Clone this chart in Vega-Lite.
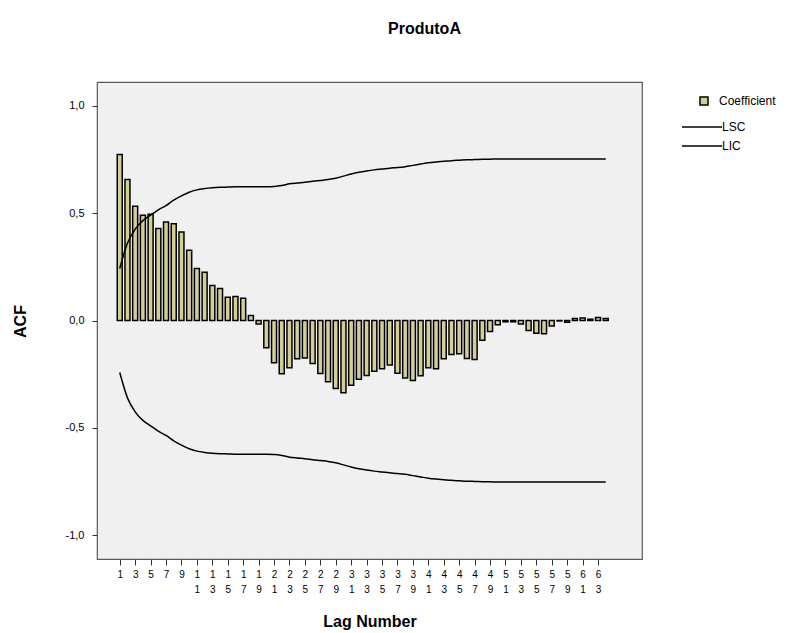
{
  "$schema": "https://vega.github.io/schema/vega-lite/v6.json",
  "width": 545,
  "height": 477,
  "autosize": "none",
  "padding": {"left": 97, "top": 82, "right": 156, "bottom": 74},
  "background": "white",
  "config": {
    "font": "Liberation Sans",
    "view": {"fill": "#f0f0f0", "stroke": "#5a5a5a", "strokeWidth": 1.2},
    "axis": {
      "grid": false,
      "domain": false,
      "labelFont": "Liberation Sans",
      "labelColor": "black",
      "tickColor": "#333333",
      "titleFont": "Liberation Sans",
      "titleFontWeight": "bold",
      "titleFontSize": 16,
      "titleColor": "black"
    },
    "legend": {"labelFont": "Liberation Sans", "labelFontSize": 12, "labelColor": "black", "padding": 0}
  },
  "title": {
    "text": "ProdutoA",
    "anchor": "middle",
    "frame": "group",
    "dx": 55,
    "offset": 32,
    "baseline": "alphabetic",
    "font": "Liberation Sans",
    "fontSize": 16,
    "fontWeight": "bold",
    "color": "black"
  },
  "data": {
    "values": [
      {"lag": 1, "acf": 0.772, "LSC": 0.242, "LIC": -0.242},
      {"lag": 2, "acf": 0.656, "LSC": 0.36, "LIC": -0.36},
      {"lag": 3, "acf": 0.532, "LSC": 0.425, "LIC": -0.425},
      {"lag": 4, "acf": 0.49, "LSC": 0.465, "LIC": -0.465},
      {"lag": 5, "acf": 0.494, "LSC": 0.49, "LIC": -0.49},
      {"lag": 6, "acf": 0.428, "LSC": 0.515, "LIC": -0.515},
      {"lag": 7, "acf": 0.458, "LSC": 0.535, "LIC": -0.535},
      {"lag": 8, "acf": 0.45, "LSC": 0.56, "LIC": -0.56},
      {"lag": 9, "acf": 0.412, "LSC": 0.58, "LIC": -0.58},
      {"lag": 10, "acf": 0.327, "LSC": 0.597, "LIC": -0.597},
      {"lag": 11, "acf": 0.242, "LSC": 0.608, "LIC": -0.608},
      {"lag": 12, "acf": 0.225, "LSC": 0.614, "LIC": -0.614},
      {"lag": 13, "acf": 0.163, "LSC": 0.618, "LIC": -0.618},
      {"lag": 14, "acf": 0.149, "LSC": 0.62, "LIC": -0.62},
      {"lag": 15, "acf": 0.108, "LSC": 0.621, "LIC": -0.621},
      {"lag": 16, "acf": 0.112, "LSC": 0.622, "LIC": -0.622},
      {"lag": 17, "acf": 0.103, "LSC": 0.622, "LIC": -0.622},
      {"lag": 18, "acf": 0.023, "LSC": 0.623, "LIC": -0.623},
      {"lag": 19, "acf": -0.016, "LSC": 0.623, "LIC": -0.623},
      {"lag": 20, "acf": -0.127, "LSC": 0.623, "LIC": -0.623},
      {"lag": 21, "acf": -0.197, "LSC": 0.624, "LIC": -0.624},
      {"lag": 22, "acf": -0.248, "LSC": 0.628, "LIC": -0.628},
      {"lag": 23, "acf": -0.22, "LSC": 0.636, "LIC": -0.636},
      {"lag": 24, "acf": -0.178, "LSC": 0.64, "LIC": -0.64},
      {"lag": 25, "acf": -0.174, "LSC": 0.643, "LIC": -0.643},
      {"lag": 26, "acf": -0.2, "LSC": 0.648, "LIC": -0.648},
      {"lag": 27, "acf": -0.247, "LSC": 0.652, "LIC": -0.652},
      {"lag": 28, "acf": -0.285, "LSC": 0.656, "LIC": -0.656},
      {"lag": 29, "acf": -0.316, "LSC": 0.662, "LIC": -0.662},
      {"lag": 30, "acf": -0.336, "LSC": 0.672, "LIC": -0.672},
      {"lag": 31, "acf": -0.301, "LSC": 0.682, "LIC": -0.682},
      {"lag": 32, "acf": -0.274, "LSC": 0.69, "LIC": -0.69},
      {"lag": 33, "acf": -0.256, "LSC": 0.696, "LIC": -0.696},
      {"lag": 34, "acf": -0.236, "LSC": 0.701, "LIC": -0.701},
      {"lag": 35, "acf": -0.225, "LSC": 0.705, "LIC": -0.705},
      {"lag": 36, "acf": -0.207, "LSC": 0.709, "LIC": -0.709},
      {"lag": 37, "acf": -0.245, "LSC": 0.712, "LIC": -0.712},
      {"lag": 38, "acf": -0.268, "LSC": 0.716, "LIC": -0.716},
      {"lag": 39, "acf": -0.279, "LSC": 0.722, "LIC": -0.722},
      {"lag": 40, "acf": -0.257, "LSC": 0.728, "LIC": -0.728},
      {"lag": 41, "acf": -0.22, "LSC": 0.734, "LIC": -0.734},
      {"lag": 42, "acf": -0.225, "LSC": 0.738, "LIC": -0.738},
      {"lag": 43, "acf": -0.178, "LSC": 0.741, "LIC": -0.741},
      {"lag": 44, "acf": -0.158, "LSC": 0.744, "LIC": -0.744},
      {"lag": 45, "acf": -0.155, "LSC": 0.746, "LIC": -0.746},
      {"lag": 46, "acf": -0.177, "LSC": 0.748, "LIC": -0.748},
      {"lag": 47, "acf": -0.181, "LSC": 0.749, "LIC": -0.749},
      {"lag": 48, "acf": -0.092, "LSC": 0.75, "LIC": -0.75},
      {"lag": 49, "acf": -0.051, "LSC": 0.751, "LIC": -0.751},
      {"lag": 50, "acf": -0.02, "LSC": 0.752, "LIC": -0.752},
      {"lag": 51, "acf": -0.006, "LSC": 0.752, "LIC": -0.752},
      {"lag": 52, "acf": -0.006, "LSC": 0.752, "LIC": -0.752},
      {"lag": 53, "acf": -0.016, "LSC": 0.752, "LIC": -0.752},
      {"lag": 54, "acf": -0.047, "LSC": 0.752, "LIC": -0.752},
      {"lag": 55, "acf": -0.059, "LSC": 0.752, "LIC": -0.752},
      {"lag": 56, "acf": -0.062, "LSC": 0.752, "LIC": -0.752},
      {"lag": 57, "acf": -0.026, "LSC": 0.752, "LIC": -0.752},
      {"lag": 58, "acf": -0.002, "LSC": 0.752, "LIC": -0.752},
      {"lag": 59, "acf": -0.008, "LSC": 0.752, "LIC": -0.752},
      {"lag": 60, "acf": 0.009, "LSC": 0.752, "LIC": -0.752},
      {"lag": 61, "acf": 0.012, "LSC": 0.752, "LIC": -0.752},
      {"lag": 62, "acf": 0.006, "LSC": 0.752, "LIC": -0.752},
      {"lag": 63, "acf": 0.014, "LSC": 0.752, "LIC": -0.752},
      {"lag": 64, "acf": 0.009, "LSC": 0.752, "LIC": -0.752}
    ]
  },
  "encoding": {
    "x": {
      "field": "lag",
      "type": "quantitative",
      "scale": {"domain": [-1.3, 68.05], "nice": false, "zero": false},
      "axis": {
        "title": "Lag Number",
        "values": [1, 3, 5, 7, 9, 11, 13, 15, 17, 19, 21, 23, 25, 27, 29, 31, 33, 35, 37, 39, 41, 43, 45, 47, 49, 51, 53, 55, 57, 59, 61, 63],
        "labelExpr": "split(toString(datum.value), '')",
        "labelFontSize": 10,
        "labelLineHeight": 15,
        "labelBaseline": "top",
        "labelPadding": 4,
        "tickSize": 6,
        "labelFlush": false,
        "labelOverlap": false,
        "titleY": 67,
        "titleBaseline": "alphabetic"
      }
    }
  },
  "layer": [
    {
      "mark": {"type": "bar", "size": 5, "stroke": "black", "strokeWidth": 1.5},
      "encoding": {
        "y": {
          "field": "acf",
          "type": "quantitative",
          "scale": {"domain": [-1.11, 1.11], "nice": false},
          "axis": {
            "title": "ACF",
            "values": [-1, -0.5, 0, 0.5, 1],
            "labelExpr": "datum.value < 0 ? '-' + replace(format(-datum.value, '.1f'), '.', ',') : replace(format(datum.value, '.1f'), '.', ',')",
            "labelFontSize": 11,
            "labelPadding": 8,
            "tickSize": 5,
            "titleX": -72,
            "titleY": 239,
            "titleBaseline": "alphabetic",
            "titleAngle": -90
          }
        },
        "fill": {
          "datum": "Coefficient",
          "type": "nominal",
          "scale": {"domain": ["Coefficient"], "range": ["#d3ce97"]},
          "legend": {
            "title": null,
            "orient": "none",
            "legendX": 601,
            "legendY": 13,
            "symbolType": "square",
            "symbolSize": 64,
            "symbolStrokeColor": "black",
            "symbolStrokeWidth": 1.5,
            "labelOffset": 9
          }
        }
      }
    },
    {
      "mark": {"type": "rule", "color": "black", "strokeWidth": 1.5},
      "encoding": {"y": {"datum": 0, "type": "quantitative"}}
    },
    {
      "transform": [{"fold": ["LSC", "LIC"], "as": ["series", "bound"]}],
      "mark": {"type": "line", "interpolate": "monotone", "strokeWidth": 1.5},
      "encoding": {
        "y": {"field": "bound", "type": "quantitative"},
        "stroke": {
          "field": "series",
          "type": "nominal",
          "scale": {"domain": ["LSC", "LIC"], "range": ["black", "black"]},
          "legend": {
            "title": null,
            "orient": "none",
            "legendX": 599,
            "legendY": 39,
            "symbolType": "M-5,0H5",
            "symbolSize": 64,
            "symbolStrokeWidth": 1.5,
            "labelOffset": 14,
            "rowPadding": 7
          }
        }
      }
    }
  ]
}
